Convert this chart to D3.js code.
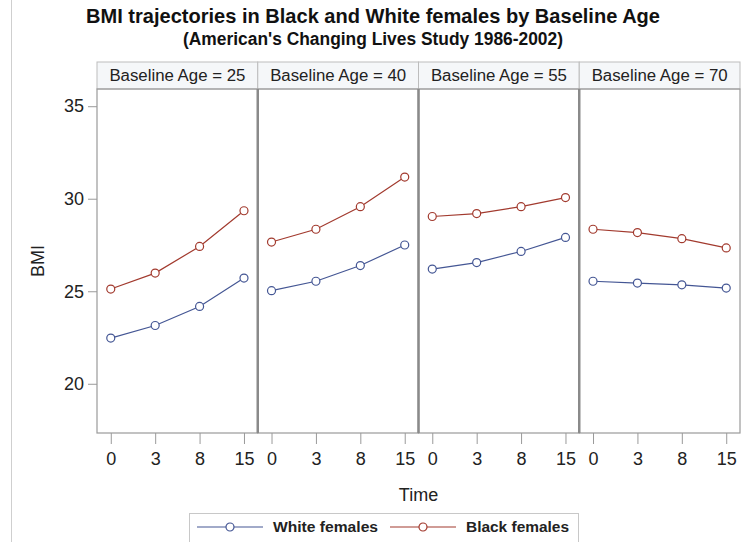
<!DOCTYPE html>
<html>
<head>
<meta charset="utf-8">
<script src="https://cdn.jsdelivr.net/npm/d3@7"></script>
<style>
  body { margin: 0; background: #fff; }
  svg { display: block; font-family: "Liberation Sans", Arial, sans-serif; }
</style>
</head>
<body>
<svg id="chart" width="746" height="542"></svg>
<script>
// chart values
var titleText = "BMI trajectories in Black and White females by Baseline Age";
var subtitleText = "(American's Changing Lives Study 1986-2002)";
var baselineAges = [25, 40, 55, 70];
var timeLabels = ["0", "3", "8", "15"];
var yTicks = [20, 25, 30, 35];
var seriesNames = ["White females", "Black females"];
var whiteBMI = [
    [22.47, 23.15, 24.18, 25.71],
    [25.03, 25.54, 26.39, 27.50],
    [26.20, 26.55, 27.15, 27.91],
    [25.54, 25.44, 25.35, 25.17]
];
var blackBMI = [
    [25.12, 25.98, 27.42, 29.35],
    [27.66, 28.35, 29.57, 31.17],
    [29.04, 29.20, 29.57, 30.06],
    [28.35, 28.17, 27.84, 27.34]
];

var colors = ["#445694", "#a23a2e"];

var svg = d3.select("#chart");

var margin = { top: 89, right: 6, bottom: 109, left: 97 };
var totalW = 746 - margin.left - margin.right;
var plotH = 542 - margin.top - margin.bottom;
var headerH = 27;

// faint frame line on the left of the picture
svg.append("line")
    .attr("x1", 11.5).attr("x2", 11.5)
    .attr("y1", 0).attr("y2", 542)
    .attr("stroke", "#cfcfcf");

// squeeze text into the width it takes in the picture
function fitText(sel, width) {
    sel.attr("textLength", width).attr("lengthAdjust", "spacingAndGlyphs");
}

svg.append("text")
    .attr("x", 373).attr("y", 23)
    .attr("text-anchor", "middle")
    .attr("font-size", 21).attr("font-weight", "bold")
    .attr("fill", "#111")
    .text(titleText)
    .call(fitText, 574);
svg.append("text")
    .attr("x", 373).attr("y", 45)
    .attr("text-anchor", "middle")
    .attr("font-size", 18).attr("font-weight", "bold")
    .attr("fill", "#111")
    .text(subtitleText)
    .call(fitText, 380);

var panelX = d3.scaleBand()
    .domain(baselineAges)
    .range([margin.left, margin.left + totalW])
    .paddingInner(0).paddingOuter(0);
var panelW = panelX.bandwidth();

var yScale = d3.scaleLinear()
    .domain([17.34, 35.93])
    .range([margin.top + plotH, margin.top]);

var xScale = d3.scalePoint()
    .domain(timeLabels)
    .range([0, panelW])
    .padding(0.31);

var line = d3.line()
    .x(function (d, i) { return xScale(timeLabels[i]); })
    .y(function (d) { return yScale(d); });

baselineAges.forEach(function (age, p) {
    var g = svg.append("g")
        .attr("transform", "translate(" + panelX(age) + ",0)");

    // header cell
    g.append("rect")
        .attr("x", 0).attr("y", margin.top - headerH)
        .attr("width", panelW).attr("height", headerH)
        .attr("fill", "#f5f7f9")
        .attr("stroke", "#bdbdbd");
    g.append("text")
        .attr("x", panelW / 2).attr("y", margin.top - 8)
        .attr("text-anchor", "middle")
        .attr("font-size", 16)
        .attr("fill", "#222")
        .text("Baseline Age = " + age)
        .call(fitText, 136);

    // x axis
    var xAxis = d3.axisBottom(xScale).tickSizeInner(11).tickSizeOuter(0).tickPadding(8);
    var ax = g.append("g")
        .attr("transform", "translate(0," + (margin.top + plotH) + ")")
        .call(xAxis);
    ax.select(".domain").remove();
    ax.selectAll("line").attr("stroke", "#9a9a9a");
    ax.selectAll("text").attr("font-size", 18).attr("fill", "#222")
        .attr("font-family", "Liberation Sans, Arial, sans-serif");

    // series
    [whiteBMI[p], blackBMI[p]].forEach(function (vals, s) {
        g.append("path")
            .datum(vals)
            .attr("fill", "none")
            .attr("stroke", colors[s])
            .attr("stroke-width", 1.2)
            .attr("d", line);
        g.selectAll(".pt" + s)
            .data(vals)
            .enter().append("circle")
            .attr("class", "pt" + s)
            .attr("cx", function (d, i) { return xScale(timeLabels[i]); })
            .attr("cy", function (d) { return yScale(d); })
            .attr("r", 4)
            .attr("fill", "#fff")
            .attr("stroke", colors[s])
            .attr("stroke-width", 1.2);
    });

    // panel frame
    g.append("rect")
        .attr("x", 0).attr("y", margin.top)
        .attr("width", panelW).attr("height", plotH)
        .attr("fill", "none")
        .attr("stroke", "#9a9a9a")
        .attr("stroke-width", 1.2);
});

// thicker separators between panels
baselineAges.slice(1).forEach(function (age) {
    svg.append("line")
        .attr("x1", panelX(age)).attr("x2", panelX(age))
        .attr("y1", margin.top).attr("y2", margin.top + plotH)
        .attr("stroke", "#8a8a8a").attr("stroke-width", 2.5);
});

// y axis
var yAxis = d3.axisLeft(yScale).tickValues(yTicks).tickSizeInner(9).tickSizeOuter(0).tickPadding(4);
var ay = svg.append("g")
    .attr("transform", "translate(" + margin.left + ",0)")
    .call(yAxis);
ay.select(".domain").remove();
ay.selectAll("line").attr("stroke", "#9a9a9a");
ay.selectAll("text").attr("font-size", 18).attr("fill", "#222")
    .attr("font-family", "Liberation Sans, Arial, sans-serif");

// axis labels
svg.append("text")
    .attr("transform", "translate(44," + (margin.top + plotH / 2) + ") rotate(-90)")
    .attr("text-anchor", "middle")
    .attr("font-size", 18).attr("fill", "#222")
    .text("BMI")
    .call(fitText, 32);
svg.append("text")
    .attr("x", margin.left + totalW / 2).attr("y", 501)
    .attr("text-anchor", "middle")
    .attr("font-size", 18).attr("fill", "#222")
    .text("Time");

// legend
var legend = svg.append("g");
legend.append("rect")
    .attr("x", 189.5).attr("y", 513.5)
    .attr("width", 389).attr("height", 32)
    .attr("fill", "#fff")
    .attr("stroke", "#c8c8c8");
var legendX = [197, 390];
seriesNames.forEach(function (name, s) {
    var lg = legend.append("g").attr("transform", "translate(" + legendX[s] + ",527)");
    lg.append("line")
        .attr("x1", 0).attr("x2", 66)
        .attr("stroke", colors[s]).attr("stroke-width", 1.2);
    lg.append("circle")
        .attr("cx", 33).attr("r", 4)
        .attr("fill", "#fff")
        .attr("stroke", colors[s]).attr("stroke-width", 1.2);
    lg.append("text")
        .attr("x", 76).attr("y", 5)
        .attr("font-size", 14).attr("font-weight", "bold")
        .attr("fill", "#222")
        .text(name)
        .call(fitText, s === 0 ? 105 : 103);
});
</script>
</body>
</html>
